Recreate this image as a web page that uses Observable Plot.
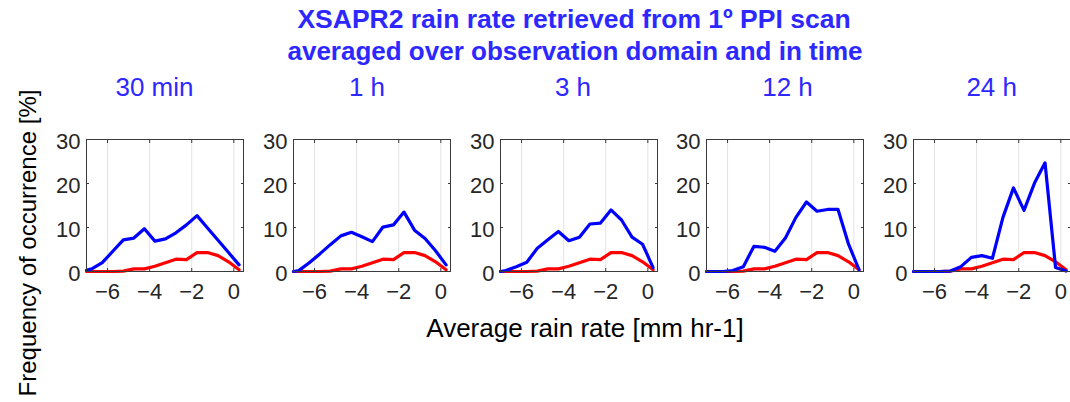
<!DOCTYPE html>
<html>
<head>
<meta charset="utf-8">
<script src="https://cdn.jsdelivr.net/npm/d3@7"></script>
<script src="https://cdn.jsdelivr.net/npm/@observablehq/plot@0.6"></script>
<style>
  html, body { margin: 0; padding: 0; background: #fff; overflow: hidden; }
  #root { position: relative; width: 1070px; height: 402px; font-family: "Liberation Sans", Arial, Helvetica, sans-serif; }
  .t { position: absolute; white-space: nowrap; line-height: 1; }
  .panel { position: absolute; }
</style>
</head>
<body>
<div id="root"></div>
<script>
// ---- Data ----
const titleLines = ["XSAPR2 rain rate retrieved from 1º PPI scan", "averaged over observation domain and in time"];
const panelTitles = ["30 min", "1 h", "3 h", "12 h", "24 h"];
const xLabel = "Average rain rate [mm hr-1]";
const yLabel = "Frequency of occurrence [%]";
const xTicks = [-6, -4, -2, 0];
const yTicks = [0, 10, 20, 30];

const rainBins = [-7, -6.75, -6.25, -5.75, -5.25, -4.75, -4.25, -3.75, -3.25, -2.75, -2.25, -1.75, -1.25, -0.75, -0.25, 0.25];

const blue30min = [0.3, 0.6, 2.0, 4.6, 7.2, 7.6, 9.7, 6.9, 7.4, 8.8, 10.6, 12.7, 9.9, 7.1, 4.3, 1.5];
const blue1h    = [0, 0.2, 2.0, 4.0, 6.1, 8.1, 8.9, 7.9, 6.8, 10.1, 10.6, 13.5, 9.4, 7.5, 4.7, 1.5];
const blue3h    = [0, 0.2, 1.1, 2.1, 5.3, 7.2, 9.1, 7.0, 7.8, 10.8, 11.0, 14.0, 11.7, 7.8, 6.2, 0.9];
const blue12h   = [0, 0, 0, 0.2, 1.1, 5.7, 5.5, 4.6, 7.6, 12.3, 15.8, 13.7, 14.1, 14.1, 6.2, 0.4];
const blue24h   = [0, 0, 0, 0, 0.1, 1.1, 3.2, 3.6, 3.0, 12.3, 19.0, 13.9, 20.1, 24.7, 0.9, 0.1];
const redRef    = [0, 0, 0, 0, 0.1, 0.6, 0.6, 1.2, 2.0, 2.8, 2.7, 4.3, 4.3, 3.6, 2.2, 0.4];

const blueSeries = [blue30min, blue1h, blue3h, blue12h, blue24h];

// ---- Layout ----
const root = document.getElementById("root");
const FONT = '"Liberation Sans", Arial, Helvetica, sans-serif';
const titleColor = "rgb(45,40,255)";

function addText(txt, opts) {
  const d = document.createElement("div");
  d.className = "t";
  d.textContent = txt;
  Object.assign(d.style, opts);
  root.appendChild(d);
  return d;
}
function centerText(txt, cx, cy, size, extra) {
  const d = addText(txt, Object.assign({fontSize: size + "px", top: (cy - 0.49 * size) + "px", left: "0px"}, extra || {}));
  const w = d.getBoundingClientRect().width;
  d.style.left = (cx - w / 2) + "px";
  return d;
}

// Titles
centerText(titleLines[0], 574, 19, 26.5, {fontWeight: "bold", color: titleColor});
centerText(titleLines[1], 575, 51, 26, {fontWeight: "bold", color: titleColor});

const titleCenters = [154.5, 367, 573, 787.5, 991.7];
panelTitles.forEach((t, i) => centerText(t, titleCenters[i], 87, 26, {color: titleColor}));

// Axis labels
centerText(xLabel, 585, 328, 26, {color: "#000"});
const yl = centerText(yLabel, 28, 243, 24, {color: "#000"});
yl.style.transformOrigin = "center center";
yl.style.transform = "rotate(-90deg)";

// Panels
const boxLefts = [86, 293, 500, 706.3, 912.7];
const boxW = 157;
const boxTop = 139, boxH = 132;
const mL = 50, mR = 1, mT = 29, mB = 40;

blueSeries.forEach((blue, i) => {
  const rows = rainBins.map((x, k) => ({x, blue: blue[k], red: redRef[k]}));
  const chart = Plot.plot({
    width: mL + boxW + mR,
    height: mT + boxH + mB,
    marginLeft: mL, marginRight: mR, marginTop: mT, marginBottom: mB,
    style: {fontFamily: FONT, fontSize: "22px", color: "#262626", background: "transparent", overflow: "visible"},
    x: {domain: [-7, 0.46], label: null},
    y: {domain: [0, 30], label: null},
    marks: [
      Plot.gridX(xTicks, {stroke: "#e3e3e3", strokeOpacity: 1, strokeWidth: 1}),
      Plot.line(rows, {x: "x", y: "red", stroke: "#ff0000", strokeWidth: 3.2, strokeLinejoin: "round", strokeLinecap: "round"}),
      Plot.line(rows, {x: "x", y: "blue", stroke: "#0000ff", strokeWidth: 3.2, strokeLinejoin: "round", strokeLinecap: "round"}),
      Plot.frame({stroke: "#3a3a3a", strokeWidth: 1}),
      Plot.axisY(yTicks, {anchor: "left", tickSize: -3, text: null, stroke: "#3a3a3a"}),
      Plot.axisY(yTicks, {anchor: "right", tickSize: -3, text: null, stroke: "#3a3a3a"}),
      Plot.axisX(xTicks, {anchor: "bottom", tickSize: -3, text: null, stroke: "#3a3a3a"}),
      Plot.axisX(xTicks, {anchor: "top", tickSize: -3, text: null, stroke: "#3a3a3a"}),
      Plot.axisY(yTicks, {anchor: "left", tickSize: 0, tickPadding: 6, dy: 2, label: null, fill: "#262626", fontSize: 22}),
      Plot.axisX(xTicks, {anchor: "bottom", tickSize: 0, tickPadding: 12, label: null, fill: "#262626", fontSize: 22})
    ]
  });
  chart.classList.add("panel");
  chart.style.left = (boxLefts[i] - mL) + "px";
  chart.style.top = (boxTop - mT) + "px";
  root.appendChild(chart);
});
</script>
</body>
</html>
